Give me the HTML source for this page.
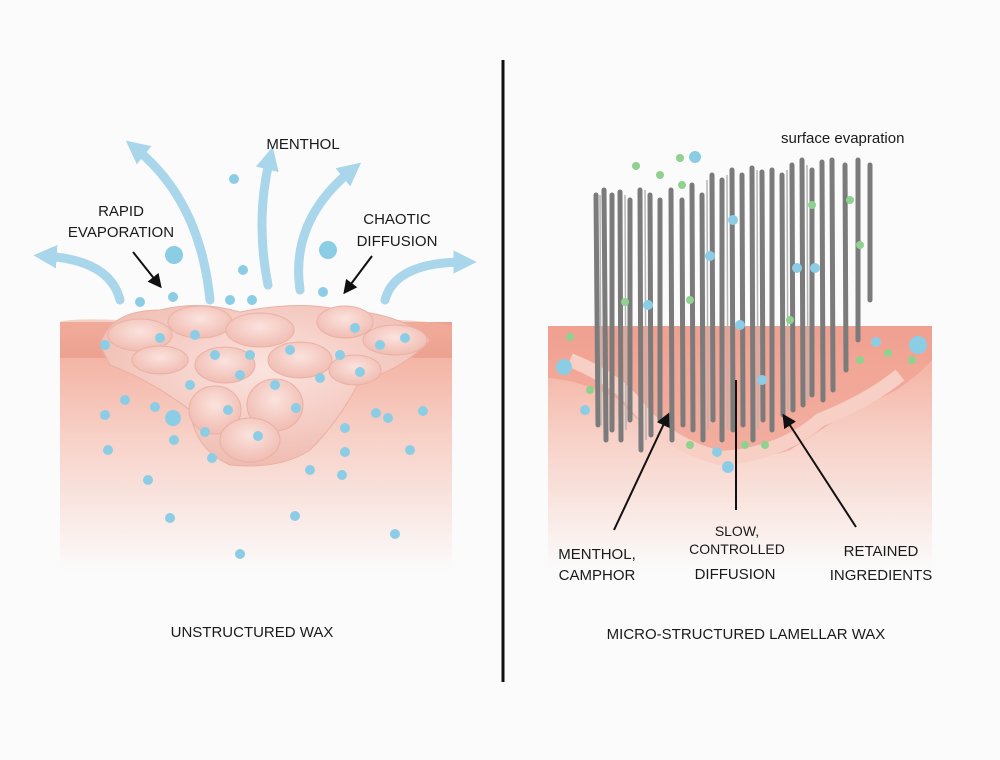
<!DOCTYPE html>
<html><head><meta charset="utf-8"><style>
html,body{margin:0;padding:0;background:#fbfbfb;}
svg{display:block;}
text{font-family:"Liberation Sans",sans-serif;fill:#1a1a1a;}
</style></head><body>
<svg width="1000" height="760" viewBox="0 0 1000 760" xmlns="http://www.w3.org/2000/svg">
<defs>
<linearGradient id="skin" x1="0" y1="0" x2="0" y2="1">
<stop offset="0" stop-color="#eea08f"/>
<stop offset="0.15" stop-color="#f4b5a6"/>
<stop offset="0.45" stop-color="#f7d0c6"/>
<stop offset="1" stop-color="#fbfbfb"/>
</linearGradient>
<linearGradient id="top" x1="0" y1="0" x2="0" y2="1">
<stop offset="0" stop-color="#f3b3a3"/>
<stop offset="1" stop-color="#e99683"/>
</linearGradient>
<radialGradient id="wax" cx="0.5" cy="0.4" r="0.6">
<stop offset="0" stop-color="#fbe3de"/>
<stop offset="1" stop-color="#f0bcb1"/>
</radialGradient>
<marker id="ab" viewBox="0 0 10 10" refX="8" refY="5" markerWidth="7" markerHeight="7" orient="auto"><path d="M0,0 L10,5 L0,10 z" fill="#111"/></marker>
<marker id="bl" viewBox="0 0 10 10" refX="5" refY="5" markerWidth="2.6" markerHeight="2.6" orient="auto"><path d="M0,0 L10,5 L0,10 z" fill="#a9d6ea"/></marker>
</defs>
<rect width="1000" height="760" fill="#fbfbfb"/>
<line x1="503" y1="60" x2="503" y2="682" stroke="#111" stroke-width="3"/>

<!-- LEFT -->
<rect x="60" y="322" width="392" height="250" fill="url(#skin)"/>
<path d="M60,322 Q70,318 120,320 L400,320 Q440,322 452,326 L452,358 L60,358 Z" fill="url(#top)" opacity="0.6"/>
<path d="M100,345 Q110,310 160,310 Q200,300 240,312 Q300,300 340,310 Q400,312 430,340 Q400,372 360,380 Q340,420 310,450 Q280,470 230,465 Q195,450 190,410 Q150,380 110,365 Z" fill="url(#wax)" stroke="#eab0a4"/>
<g fill="url(#wax)" stroke="#eab0a4" stroke-width="1">
<ellipse cx="140" cy="335" rx="32" ry="16"/><ellipse cx="200" cy="322" rx="32" ry="16"/>
<ellipse cx="260" cy="330" rx="34" ry="17"/><ellipse cx="345" cy="322" rx="28" ry="16"/>
<ellipse cx="395" cy="340" rx="32" ry="15"/><ellipse cx="160" cy="360" rx="28" ry="14"/>
<ellipse cx="225" cy="365" rx="30" ry="18"/><ellipse cx="300" cy="360" rx="32" ry="18"/>
<ellipse cx="355" cy="370" rx="26" ry="15"/><ellipse cx="215" cy="410" rx="26" ry="24"/>
<ellipse cx="275" cy="405" rx="28" ry="26"/><ellipse cx="250" cy="440" rx="30" ry="22"/>
</g>
<g fill="none" stroke="#a9d6ea" stroke-width="9" stroke-linecap="round" marker-end="url(#bl)">
<path d="M210,300 Q200,200 135,148"/>
<path d="M268,285 Q255,220 270,158"/>
<path d="M300,290 Q290,220 352,170"/>
<path d="M120,300 Q110,260 45,256"/>
<path d="M385,300 Q395,262 465,262"/>
</g>
<g fill="#8ccde6">
<circle cx="174" cy="255" r="9"/><circle cx="328" cy="250" r="9"/>
<circle cx="234" cy="179" r="5"/><circle cx="243" cy="270" r="5"/><circle cx="173" cy="297" r="5"/>
<circle cx="140" cy="302" r="5"/><circle cx="230" cy="300" r="5"/><circle cx="252" cy="300" r="5"/>
<circle cx="323" cy="292" r="5"/><circle cx="355" cy="328" r="5"/><circle cx="405" cy="338" r="5"/>
<circle cx="105" cy="345" r="5"/><circle cx="160" cy="338" r="5"/><circle cx="195" cy="335" r="5"/>
<circle cx="215" cy="355" r="5"/><circle cx="250" cy="355" r="5"/><circle cx="290" cy="350" r="5"/>
<circle cx="340" cy="355" r="5"/><circle cx="380" cy="345" r="5"/><circle cx="190" cy="385" r="5"/>
<circle cx="240" cy="375" r="5"/><circle cx="275" cy="385" r="5"/><circle cx="320" cy="378" r="5"/>
<circle cx="360" cy="372" r="5"/><circle cx="125" cy="400" r="5"/><circle cx="105" cy="415" r="5"/>
<circle cx="155" cy="407" r="5"/><circle cx="173" cy="418" r="8"/><circle cx="228" cy="410" r="5"/>
<circle cx="296" cy="408" r="5"/><circle cx="376" cy="413" r="5"/><circle cx="388" cy="418" r="5"/>
<circle cx="423" cy="411" r="5"/><circle cx="108" cy="450" r="5"/><circle cx="174" cy="440" r="5"/>
<circle cx="205" cy="432" r="5"/><circle cx="258" cy="436" r="5"/><circle cx="345" cy="428" r="5"/>
<circle cx="410" cy="450" r="5"/><circle cx="212" cy="458" r="5"/><circle cx="310" cy="470" r="5"/>
<circle cx="345" cy="452" r="5"/><circle cx="148" cy="480" r="5"/><circle cx="342" cy="475" r="5"/>
<circle cx="170" cy="518" r="5"/><circle cx="295" cy="516" r="5"/><circle cx="395" cy="534" r="5"/>
<circle cx="240" cy="554" r="5"/>
</g>
<line x1="133" y1="252" x2="160" y2="286" stroke="#111" stroke-width="2" marker-end="url(#ab)"/>
<line x1="372" y1="256" x2="345" y2="292" stroke="#111" stroke-width="2" marker-end="url(#ab)"/>
<text x="303" y="149" font-size="15" text-anchor="middle">MENTHOL</text>
<text x="121" y="216" font-size="15" text-anchor="middle">RAPID</text>
<text x="121" y="237" font-size="15" text-anchor="middle">EVAPORATION</text>
<text x="397" y="224" font-size="15" text-anchor="middle">CHAOTIC</text>
<text x="397" y="246" font-size="15" text-anchor="middle">DIFFUSION</text>
<text x="252" y="637" font-size="15" text-anchor="middle">UNSTRUCTURED WAX</text>

<!-- RIGHT -->
<rect x="548" y="326" width="384" height="245" fill="url(#skin)"/>
<path d="M548,326 L932,326 L932,360 Q900,395 860,405 Q820,430 790,450 Q730,470 690,445 Q640,430 620,400 Q580,380 548,378 Z" fill="#f0a090" opacity="0.75"/>
<path d="M570,360 Q620,380 640,410 Q670,445 720,458 Q780,455 820,420 Q870,400 900,375" fill="none" stroke="#f7cfc5" stroke-width="14"/>
<g stroke="#7b7b7b" stroke-width="5" stroke-linecap="round">
<line x1="596" y1="195" x2="598" y2="425"/><line x1="604" y1="190" x2="606" y2="440"/>
<line x1="612" y1="195" x2="612" y2="430"/><line x1="620" y1="192" x2="621" y2="440"/>
<line x1="630" y1="200" x2="630" y2="420"/><line x1="640" y1="190" x2="641" y2="450"/>
<line x1="650" y1="195" x2="651" y2="435"/><line x1="660" y1="200" x2="660" y2="420"/>
<line x1="671" y1="190" x2="672" y2="440"/><line x1="682" y1="200" x2="683" y2="425"/>
<line x1="692" y1="185" x2="693" y2="430"/><line x1="702" y1="195" x2="703" y2="440"/>
<line x1="712" y1="175" x2="713" y2="420"/><line x1="722" y1="180" x2="722" y2="440"/>
<line x1="732" y1="170" x2="733" y2="430"/><line x1="742" y1="175" x2="743" y2="425"/>
<line x1="752" y1="168" x2="753" y2="440"/><line x1="762" y1="172" x2="763" y2="420"/>
<line x1="772" y1="170" x2="772" y2="430"/><line x1="782" y1="175" x2="783" y2="415"/>
<line x1="792" y1="165" x2="793" y2="410"/><line x1="802" y1="160" x2="803" y2="405"/>
<line x1="812" y1="170" x2="812" y2="395"/><line x1="822" y1="162" x2="823" y2="400"/>
<line x1="832" y1="160" x2="833" y2="390"/><line x1="845" y1="165" x2="846" y2="370"/>
<line x1="858" y1="160" x2="858" y2="340"/><line x1="870" y1="165" x2="870" y2="300"/>
</g>
<g stroke="#b5b5b5" stroke-width="1.5">
<line x1="600" y1="195" x2="601" y2="425"/><line x1="645" y1="190" x2="646" y2="440"/>
<line x1="707" y1="180" x2="708" y2="430"/><line x1="757" y1="170" x2="758" y2="430"/>
<line x1="807" y1="165" x2="808" y2="400"/><line x1="625" y1="195" x2="626" y2="430"/>
<line x1="727" y1="175" x2="728" y2="430"/><line x1="787" y1="170" x2="788" y2="410"/>
</g>
<g fill="#8fd18f">
<circle cx="636" cy="166" r="4"/><circle cx="660" cy="175" r="4"/><circle cx="682" cy="185" r="4"/>
<circle cx="680" cy="158" r="4"/><circle cx="570" cy="337" r="4"/><circle cx="590" cy="390" r="4"/>
<circle cx="625" cy="302" r="4"/><circle cx="690" cy="300" r="4"/><circle cx="812" cy="205" r="4"/>
<circle cx="850" cy="200" r="4"/><circle cx="860" cy="245" r="4"/><circle cx="888" cy="353" r="4"/>
<circle cx="912" cy="360" r="4"/><circle cx="690" cy="445" r="4"/><circle cx="745" cy="445" r="4"/>
<circle cx="765" cy="445" r="4"/><circle cx="790" cy="320" r="4"/><circle cx="860" cy="360" r="4"/>
</g>
<g fill="#8ccde6">
<circle cx="695" cy="157" r="6"/><circle cx="564" cy="367" r="8"/><circle cx="918" cy="345" r="9"/>
<circle cx="648" cy="305" r="5"/><circle cx="710" cy="256" r="5"/><circle cx="733" cy="220" r="5"/>
<circle cx="815" cy="268" r="5"/><circle cx="797" cy="268" r="5"/><circle cx="762" cy="380" r="5"/>
<circle cx="717" cy="452" r="5"/><circle cx="728" cy="467" r="6"/><circle cx="876" cy="342" r="5"/>
<circle cx="585" cy="410" r="5"/><circle cx="740" cy="325" r="5"/>
</g>
<line x1="614" y1="530" x2="668" y2="415" stroke="#111" stroke-width="2" marker-end="url(#ab)"/>
<line x1="736" y1="510" x2="736" y2="380" stroke="#111" stroke-width="2"/>
<line x1="856" y1="527" x2="784" y2="416" stroke="#111" stroke-width="2" marker-end="url(#ab)"/>
<text x="781" y="143" font-size="15">surface evapration</text>
<text x="597" y="559" font-size="15" text-anchor="middle">MENTHOL,</text>
<text x="597" y="580" font-size="15" text-anchor="middle">CAMPHOR</text>
<text x="737" y="536" font-size="14" text-anchor="middle">SLOW,</text>
<text x="737" y="554" font-size="14" text-anchor="middle">CONTROLLED</text>
<text x="735" y="579" font-size="15" text-anchor="middle">DIFFUSION</text>
<text x="881" y="556" font-size="15" text-anchor="middle">RETAINED</text>
<text x="881" y="580" font-size="15" text-anchor="middle">INGREDIENTS</text>
<text x="746" y="639" font-size="15" text-anchor="middle">MICRO-STRUCTURED LAMELLAR WAX</text>
</svg>
</body></html>
